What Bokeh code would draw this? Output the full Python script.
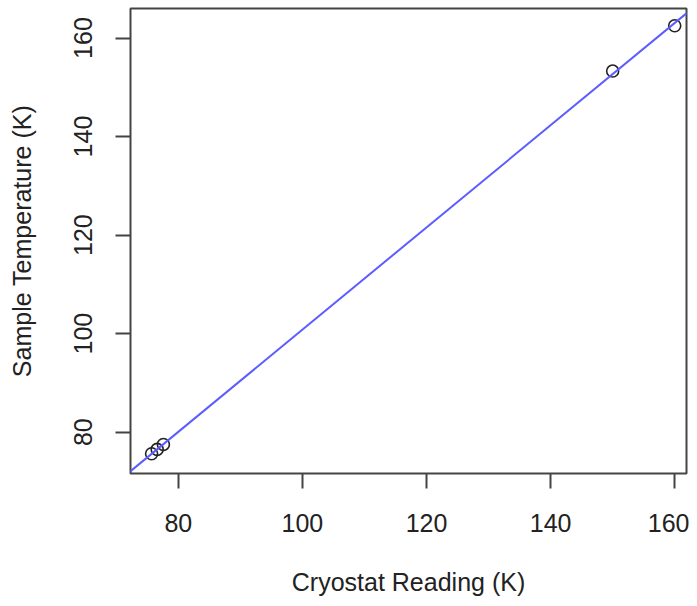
import numpy as np
from bokeh.plotting import figure
from bokeh.models import Range1d, Slope, FixedTicker
from bokeh.embed import file_html
from bokeh.resources import INLINE

# Data
cryostat_reading = [75.7, 76.6, 77.6, 150.0, 160.0]
sample_temperature = [75.6, 76.5, 77.5, 153.3, 162.5]
x_ticks = [80, 100, 120, 140, 160]
y_ticks = [80, 100, 120, 140, 160]
x_limits = (72.3, 161.9)
y_limits = (71.6, 166.0)

# least-squares fit line (as abline(lm(...)))
slope, intercept = np.polyfit(cryostat_reading, sample_temperature, 1)

FONT = "Liberation Sans"
TXT = "#222222"

p = figure(width=689, height=598, output_backend="svg", toolbar_location=None,
           x_range=Range1d(*x_limits), y_range=Range1d(*y_limits),
           min_border_left=130, min_border_right=3, min_border_top=8,
           min_border_bottom=119)
p.xgrid.visible = False
p.ygrid.visible = False
p.outline_line_color = "#444444"
p.outline_line_width = 2
p.background_fill_color = "white"
p.border_fill_color = "white"

p.add_layout(Slope(gradient=slope, y_intercept=intercept,
                   line_color="#5c5cff", line_width=2))

p.scatter(cryostat_reading, sample_temperature, marker="circle", size=12,
          fill_color=None, line_color="#222222", line_width=1.6)

for ax in (p.xaxis[0], p.yaxis[0]):
    ax.axis_line_color = None
    ax.major_tick_in = 0
    ax.major_tick_out = 15
    ax.major_tick_line_color = "#444444"
    ax.major_tick_line_width = 2
    ax.minor_tick_line_color = None
    ax.major_label_text_font = FONT
    ax.major_label_text_font_size = "25px"
    ax.major_label_text_color = TXT
    ax.axis_label_text_font = FONT
    ax.axis_label_text_font_size = "25px"
    ax.axis_label_text_font_style = "normal"
    ax.axis_label_text_color = TXT

p.xaxis[0].ticker = FixedTicker(ticks=x_ticks)
p.yaxis[0].ticker = FixedTicker(ticks=y_ticks)
p.xaxis[0].axis_label = "Cryostat Reading (K)"
p.yaxis[0].axis_label = "Sample Temperature (K)"
p.yaxis[0].major_label_orientation = "vertical"
p.xaxis[0].major_label_standoff = 25
p.yaxis[0].major_label_standoff = 23
p.xaxis[0].axis_label_standoff = 33
p.yaxis[0].axis_label_standoff = 36

open("out.html", "w").write(file_html(p, INLINE))
